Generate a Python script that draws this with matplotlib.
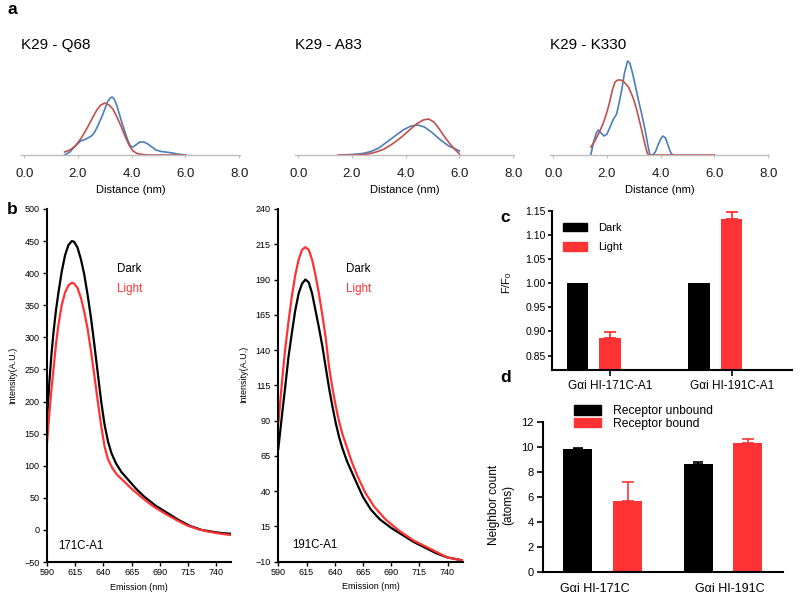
import numpy as np
import matplotlib
matplotlib.use("Agg")
import matplotlib.pyplot as plt
from matplotlib.patches import Patch
from matplotlib.ticker import FormatStrFormatter

plt.rcParams['font.family'] = ['Liberation Sans', 'DejaVu Sans']

# ---- panel a : distance distributions (x in nm, relative frequency)
a_titles = ["K29 - Q68", "K29 - A83", "K29 - K330"]

q68_blue_x = [1.5, 1.7, 1.9, 2.1, 2.3, 2.5, 2.6, 2.7, 2.8, 2.9, 3.0, 3.1, 3.2, 3.27, 3.35, 3.45,
              3.55, 3.65, 3.75, 3.85, 3.95, 4.05, 4.15, 4.3, 4.45, 4.6, 4.75, 4.9, 5.1, 5.4, 5.7, 6.0]
q68_blue_y = [0.0, 0.03, 0.09, 0.14, 0.16, 0.19, 0.22, 0.27, 0.33, 0.39, 0.46, 0.53, 0.57, 0.58, 0.56, 0.49,
              0.40, 0.31, 0.23, 0.15, 0.09, 0.08, 0.10, 0.13, 0.13, 0.11, 0.08, 0.05, 0.035, 0.025, 0.01, 0.0]
q68_red_x = [1.5, 1.7, 1.9, 2.1, 2.3, 2.5, 2.7, 2.85, 3.0, 3.15, 3.3, 3.45, 3.6, 3.75, 3.9, 4.05, 4.2, 4.4, 4.6, 6.0]
q68_red_y = [0.03, 0.05, 0.09, 0.16, 0.25, 0.35, 0.45, 0.50, 0.52, 0.50, 0.46, 0.38, 0.29, 0.19, 0.10, 0.04, 0.015, 0.005, 0.0, 0.0]

a83_blue_x = [1.5, 2.0, 2.4, 2.7, 3.0, 3.3, 3.6, 3.9, 4.2, 4.45, 4.7, 5.0, 5.3, 5.6, 5.85, 6.0]
a83_blue_y = [0.0, 0.005, 0.015, 0.035, 0.07, 0.13, 0.19, 0.25, 0.29, 0.30, 0.28, 0.22, 0.15, 0.09, 0.06, 0.04]
a83_red_x = [1.5, 2.2, 2.6, 2.9, 3.2, 3.5, 3.8, 4.1, 4.4, 4.65, 4.85, 5.05, 5.25, 5.45, 5.65, 5.85, 6.0]
a83_red_y = [0.0, 0.0, 0.01, 0.03, 0.06, 0.11, 0.17, 0.24, 0.31, 0.35, 0.36, 0.33, 0.26, 0.18, 0.11, 0.05, 0.01]

k330_blue_x = [1.4, 1.5, 1.6, 1.68, 1.78, 1.9, 2.0, 2.1, 2.24, 2.36, 2.45, 2.55, 2.65, 2.77, 2.85, 2.95,
               3.05, 3.17, 3.3, 3.42, 3.52, 3.6, 3.7, 3.8, 3.9, 4.0, 4.08, 4.18, 4.28, 4.38, 4.45]
k330_blue_y = [0.0, 0.13, 0.22, 0.25, 0.22, 0.19, 0.21, 0.27, 0.36, 0.41, 0.52, 0.65, 0.82, 0.94, 0.92, 0.82,
               0.70, 0.55, 0.40, 0.25, 0.10, 0.0, 0.0, 0.03, 0.10, 0.16, 0.19, 0.17, 0.09, 0.02, 0.0]
k330_red_x = [1.4, 1.55, 1.7, 1.85, 2.0, 2.1, 2.2, 2.3, 2.4, 2.5, 2.6, 2.7, 2.8, 2.9, 3.0, 3.1, 3.2, 3.3,
              3.4, 3.5, 3.55, 6.0]
k330_red_y = [0.08, 0.14, 0.22, 0.31, 0.43, 0.53, 0.65, 0.73, 0.75, 0.75, 0.74, 0.71, 0.68, 0.62, 0.55, 0.46,
              0.35, 0.24, 0.12, 0.02, 0.0, 0.0]

# ---- panel b : emission spectra
em_171_dark_x = [590, 592, 594, 596, 598, 600, 603, 606, 609, 612, 614, 617, 620, 623, 626, 629, 632, 635, 638,
                 641, 644, 647, 651, 656, 662, 669, 676, 686, 697, 707, 717, 727, 737, 745, 753]
em_171_dark_y = [170, 228, 275, 312, 343, 368, 402, 428, 444, 450, 449, 440, 422, 398, 366, 330, 288, 244, 200,
                 164, 138, 120, 104, 90, 78, 64, 52, 38, 26, 15, 6, 0, -3, -5, -6]
em_171_light_x = [590, 592, 594, 596, 598, 600, 603, 606, 609, 612, 614, 617, 620, 623, 626, 629, 632, 635, 638,
                  641, 644, 648, 652, 658, 665, 673, 683, 694, 704, 714, 724, 734, 744, 753]
em_171_light_y = [135, 180, 220, 255, 290, 318, 350, 370, 381, 385, 384, 377, 362, 340, 313, 278, 240, 200, 162,
                  130, 110, 96, 86, 76, 64, 52, 38, 26, 16, 7, 1, -3, -6, -8]

em_191_dark_x = [590, 593, 596, 599, 602, 605, 608, 611, 614, 617, 620, 623, 626, 629, 632, 635, 638, 641, 644,
                 647, 651, 656, 661, 665, 672, 680, 690, 700, 710, 720, 730, 740, 753]
em_191_dark_y = [70, 92, 113, 135, 152, 168, 180, 187, 190, 188, 180, 168, 156, 143, 128, 113, 100, 88, 78,
                 70, 61, 52, 43, 36, 27, 20, 14, 9, 4, 0, -4, -7, -9]
em_191_light_x = [590, 593, 596, 599, 602, 605, 608, 611, 614, 617, 620, 623, 626, 629, 632, 635, 638, 641, 644,
                  647, 650, 655, 660, 667, 675, 685, 697, 710, 720, 730, 740, 753]
em_191_light_y = [88, 115, 140, 160, 178, 193, 204, 211, 213, 211, 204, 193, 180, 165, 149, 128, 113, 100, 89,
                  80, 73, 61, 51, 39, 29, 20, 12, 5, 1, -3, -7, -9]

# ---- panel c : F/F0
c_groups = ["G\u03b1i HI-171C-A1", "G\u03b1i HI-191C-A1"]
c_dark = [1.0, 1.0]
c_light = [0.887, 1.132]
c_light_err = [0.011, 0.015]

# ---- panel d : neighbor count
d_groups = ["G\u03b1i HI-171C", "G\u03b1i HI-191C"]
d_unbound = [9.79, 8.62]
d_unbound_err = [0.12, 0.12]
d_bound = [5.66, 10.32]
d_bound_err = [1.5, 0.3]

BLUE = '#4a7ebb'
DRED = '#c0504d'
RED = '#ff3333'

W, H = 800, 598
fig = plt.figure(figsize=(8, 5.98), dpi=100)


def box(l, r, t, b):
    return [l / W, 1 - b / H, (r - l) / W, (b - t) / H]


# panel a
a_data = [(q68_blue_x, q68_blue_y, q68_red_x, q68_red_y),
          (a83_blue_x, a83_blue_y, a83_red_x, a83_red_y),
          (k330_blue_x, k330_blue_y, k330_red_x, k330_red_y)]
a_left = [21, 295, 550]
for i in range(3):
    ax = fig.add_axes(box(a_left[i], a_left[i] + 219, 55, 155))
    bx, by, rx, ry = a_data[i]
    ax.plot(bx, by, color=BLUE, lw=1.2)
    ax.plot(rx, ry, color=DRED, lw=1.2)
    ax.set_xlim(-0.12, 8.03)
    ax.set_ylim(0, 1)
    for s in ['top', 'right', 'left']:
        ax.spines[s].set_visible(False)
    ax.spines['bottom'].set_color('#bfbfbf')
    ax.spines['bottom'].set_linewidth(1)
    ax.set_yticks([])
    ax.set_xticks([0, 2, 4, 6, 8])
    ax.xaxis.set_major_formatter(FormatStrFormatter('%.1f'))
    ax.tick_params(axis='x', length=2, color='#bfbfbf', labelcolor='#1a1a1a', labelsize=9.5, pad=7.5)
    ax.set_xlabel("Distance (nm)", fontsize=8, va='center')
    ax.xaxis.set_label_coords(0.5, -0.35)
    ax.text(0, 1.1, a_titles[i], transform=ax.transAxes, ha='left', va='center', fontsize=11)
    ax.patch.set_alpha(0)

# panel b
b_specs = [((47, 231, 209, 562), em_171_dark_x, em_171_dark_y, em_171_light_x, em_171_light_y,
            (590, 753), (-50, 500), 50, "171C-A1", 0.38, 0.06),
           ((278.3, 463.3, 209, 561.7), em_191_dark_x, em_191_dark_y, em_191_light_x, em_191_light_y,
            (590, 754), (-10, 240), 25, "191C-A1", 0.366, 0.074)]
for (bb, dx, dy, lx, ly, xl, yl, step, tag, tx, sx) in b_specs:
    ax = fig.add_axes(box(*bb))
    ax.plot(dx, dy, color='black', lw=1.6)
    ax.plot(lx, ly, color=RED, lw=1.6)
    ax.set_xlim(*xl)
    ax.set_ylim(*yl)
    ax.set_xticks(np.arange(590, 741, 25))
    ax.set_yticks(np.arange(yl[0], yl[1] + 1, step))
    for s in ['top', 'right']:
        ax.spines[s].set_visible(False)
    for s in ['left', 'bottom']:
        ax.spines[s].set_linewidth(1.5)
    ax.tick_params(length=3, width=1, labelsize=6.5, pad=2.5)
    ax.tick_params(axis='x', pad=1.5)
    ax.set_ylabel("Intensity(A.U.)", fontsize=6.5, va='center')
    ax.yaxis.set_label_coords(-0.185, 0.53)
    ax.set_xlabel("Emission (nm)", fontsize=6.5, va='center')
    ax.xaxis.set_label_coords(0.5, -0.071)
    ax.text(tx, 0.83, "Dark", transform=ax.transAxes, fontsize=8.3, va='center', color='black')
    ax.text(tx, 0.773, "Light", transform=ax.transAxes, fontsize=8.3, va='center', color=RED)
    ax.text(sx, 0.046, tag, transform=ax.transAxes, fontsize=8.3, va='center')

# panel c
ax = fig.add_axes(box(551.7, 791.7, 210.7, 370))
xc = np.arange(len(c_groups))
ax.bar(xc - 0.267, c_dark, width=0.177, color='black', label='Dark')
ax.bar(xc, c_light, width=0.177, color=RED, label='Light')
ax.errorbar(xc, c_light, yerr=[np.zeros(2), c_light_err], fmt='none', ecolor=RED,
            elinewidth=1.3, capsize=4.5, capthick=1.3)
ax.set_xlim(-0.479, 1.493)
ax.set_ylim(0.82, 1.15)
ax.set_yticks(np.arange(0.85, 1.151, 0.05))
ax.yaxis.set_major_formatter(FormatStrFormatter('%.2f'))
ax.set_xticks(xc)
ax.set_xticklabels(c_groups, fontsize=8.5)
for s in ['top', 'right']:
    ax.spines[s].set_visible(False)
for s in ['left', 'bottom']:
    ax.spines[s].set_linewidth(1.5)
ax.tick_params(axis='y', length=3, width=1.2, labelsize=7.5, pad=1.5)
ax.tick_params(axis='x', length=4, width=1.2, pad=3)
ax.set_ylabel(r'F/F$_\mathregular{0}$', fontsize=8, va='center')
ax.yaxis.set_label_coords(-0.186, 0.546)
ax.legend(handles=[Patch(color='black'), Patch(color=RED)], labels=['Dark', 'Light'],
          loc='upper left', bbox_to_anchor=(0.047, 0.925), frameon=False, borderpad=0, borderaxespad=0,
          fontsize=8, handlelength=2.2, handleheight=0.8, handletextpad=1.0, labelspacing=0.85)

# panel d
ax = fig.add_axes(box(542.7, 783, 421.7, 571.7))
xd = np.arange(len(d_groups))
ax.bar(xd - 0.205, d_unbound, width=0.24, color='black')
ax.bar(xd + 0.208, d_bound, width=0.24, color=RED)
ax.errorbar(xd - 0.205, d_unbound, yerr=[np.zeros(2), d_unbound_err], fmt='none', ecolor='black',
            elinewidth=1.2, capsize=3.5, capthick=1.2)
ax.errorbar(xd + 0.208, d_bound, yerr=[np.zeros(2), d_bound_err], fmt='none', ecolor=RED,
            elinewidth=1.2, capsize=4, capthick=1.2)
ax.set_xlim(-0.497, 1.5)
ax.set_ylim(0, 12)
ax.set_yticks(np.arange(0, 13, 2))
ax.set_xticks([-0.06, 1.06])
ax.set_xticklabels(d_groups, fontsize=9)
for s in ['top', 'right']:
    ax.spines[s].set_visible(False)
for s in ['left', 'bottom']:
    ax.spines[s].set_linewidth(1.5)
ax.tick_params(axis='y', length=4, width=1.2, labelsize=8, pad=2.5)
ax.tick_params(axis='x', length=0, pad=8)
ax.set_ylabel("Neighbor count\n(atoms)", fontsize=8.5, va='center')
ax.yaxis.set_label_coords(-0.174, 0.445)
ax.legend(handles=[Patch(color='black'), Patch(color=RED)], labels=['Receptor unbound', 'Receptor bound'],
          loc='upper left', bbox_to_anchor=(0.1315, 1.11), frameon=False, borderpad=0, borderaxespad=0,
          fontsize=8.7, handlelength=2.2, handleheight=0.85, handletextpad=1.0, labelspacing=0.05)

# panel letters
for lab, x, y in [('a', 7, 10), ('b', 7, 209), ('c', 500, 217.5), ('d', 500, 377.5)]:
    fig.text(x / W, 1 - y / H, lab, fontsize=12.5, fontweight='bold', ha='left', va='center')

fig.savefig('out.png', dpi=100)
